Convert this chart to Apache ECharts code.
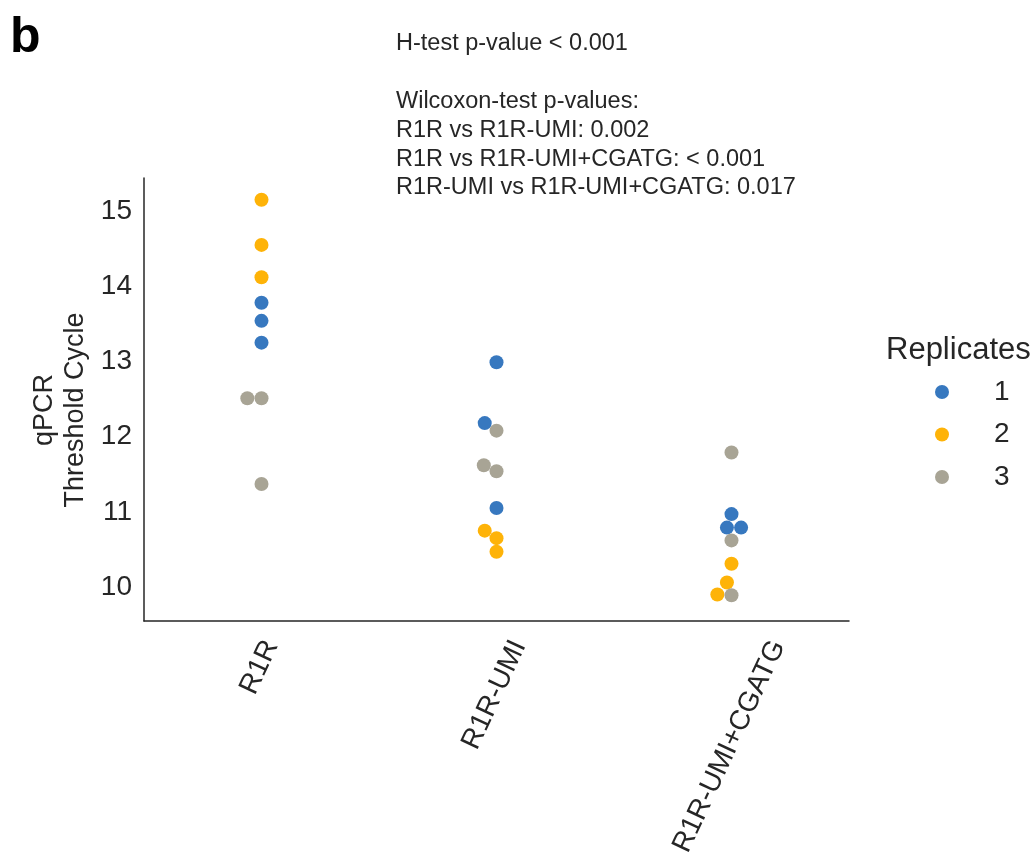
<!DOCTYPE html>
<html><head><meta charset="utf-8">
<script src="https://cdn.jsdelivr.net/npm/echarts@6/dist/echarts.min.js"></script>
<style>html,body{margin:0;padding:0;background:#fff}#c{width:1034px;height:867px}</style>
</head><body><div id="c"></div>
<script>
// ---- data ----
const categories = ['R1R', 'R1R-UMI', 'R1R-UMI+CGATG'];
const replicates = ['1', '2', '3'];
// values per category for each replicate
const rep1Values = [[13.78, 13.54, 13.25], [12.99, 12.18, 11.05], [10.97, 10.79, 10.79]];
const rep2Values = [[15.15, 14.55, 14.12], [10.75, 10.65, 10.47], [10.31, 10.06, 9.90]];
const rep3Values = [[12.51, 12.51, 11.37], [12.08, 11.62, 11.54], [11.79, 10.62, 9.89]];
const yTicks = [10, 11, 12, 13, 14, 15];
const annotationLines = [
  'H-test p-value < 0.001',
  '',
  'Wilcoxon-test p-values:',
  'R1R vs R1R-UMI: 0.002',
  'R1R vs R1R-UMI+CGATG: < 0.001',
  'R1R-UMI vs R1R-UMI+CGATG: 0.017'
];
const colors = ['#3778bf', '#feb308', '#a8a495'];
const FONT = '"Liberation Sans", Arial, Helvetica, sans-serif';
const TXT = '#262626';
const XLABEL_SIZE = 28;
const XLABEL_ROT = 65 * Math.PI / 180;

const allReps = [rep1Values, rep2Values, rep3Values];

function seriesData(offsets) {
  return allReps.map((rep, ri) => {
    const pts = [];
    rep.forEach((vals, ci) => vals.forEach((v, k) => {
      pts.push([ci + (offsets ? offsets[ri][ci][k] : 0), v]);
    }));
    return pts;
  });
}

const chart = echarts.init(document.getElementById('c'), null, {renderer: 'canvas'});
const measureCtx = document.createElement('canvas').getContext('2d');

function xLabelGraphics() {
  const axisY = chart.convertToPixel({yAxisIndex: 0}, 9.548);
  measureCtx.font = XLABEL_SIZE + 'px ' + FONT;
  return categories.map((cat, ci) => {
    const tx = chart.convertToPixel({xAxisIndex: 0}, cat);
    const w = measureCtx.measureText(cat).width;
    const h = XLABEL_SIZE;
    const H = w * Math.sin(XLABEL_ROT) + h * Math.cos(XLABEL_ROT);
    return {
      type: 'text', id: 'xl' + ci, x: tx - 2, y: axisY + 15 + H / 2, rotation: XLABEL_ROT,
      style: {text: cat, font: XLABEL_SIZE + 'px ' + FONT, fill: TXT, align: 'center', verticalAlign: 'middle'}
    };
  });
}

function buildOption(offsets, withLabels) {
  const data = seriesData(offsets);
  const graphics = [
    {type: 'text', id: 'b', left: 10, top: 13, style: {text: 'b', font: 'bold 50px ' + FONT, fill: '#000'}},
    {type: 'text', id: 'ann', x: 396, y: 29.5, style: {text: annotationLines.join('\n'), font: '23.5px ' + FONT, fill: TXT, lineHeight: 28.8, verticalAlign: 'top', align: 'left'}},
    {type: 'text', id: 'yt', x: 60, y: 410, rotation: Math.PI / 2, style: {text: 'qPCR\nThreshold Cycle', font: '27px ' + FONT, fill: TXT, lineHeight: 31, align: 'center', verticalAlign: 'middle'}},
    {type: 'text', id: 'lt', x: 886, y: 350, style: {text: 'Replicates', font: '31px ' + FONT, fill: TXT, align: 'left', verticalAlign: 'middle'}}
  ].concat(withLabels ? xLabelGraphics() : []);
  return {
    animation: false,
    backgroundColor: '#fff',
    textStyle: {fontFamily: FONT},
    grid: {left: 144, right: 185, top: 178, bottom: 246, containLabel: false},
    xAxis: [{
      type: 'category', data: categories, position: 'bottom',
      axisLine: {show: true, onZero: false, lineStyle: {color: TXT, width: 1.5}},
      axisTick: {show: false},
      splitLine: {show: false},
      axisLabel: {show: false}
    }, {
      type: 'value', min: -0.5, max: 2.5, show: false,
      axisLine: {onZero: false}
    }],
    yAxis: [{
      type: 'value', min: 9.548, max: 15.44,
      axisLine: {show: true, onZero: false, lineStyle: {color: TXT, width: 1.5}},
      axisTick: {show: false},
      splitLine: {show: false},
      axisLabel: {customValues: yTicks, fontSize: 28, color: TXT, margin: 12, fontFamily: FONT}
    }],
    legend: {
      data: replicates, orient: 'vertical', left: 930, top: 373,
      icon: 'circle', itemWidth: 14, itemHeight: 14, itemGap: 14.5,
      textStyle: {fontSize: 28, color: TXT, fontFamily: FONT, lineHeight: 28, padding: [0, 0, 0, 40]}
    },
    graphic: graphics,
    series: replicates.map((name, ri) => ({
      name: name, type: 'scatter', xAxisIndex: 1, yAxisIndex: 0,
      symbol: 'circle', symbolSize: 14,
      itemStyle: {color: colors[ri], opacity: 1},
      data: data[ri]
    }))
  };
}

chart.setOption(buildOption(null, false));

// beeswarm layout (seaborn-like) computed in pixel space
function swarmOffsets() {
  const offsets = allReps.map(r => r.map(c => c.map(() => 0)));
  const d = 13.5;
  const px0 = chart.convertToPixel({xAxisIndex: 1}, 0);
  const px1 = chart.convertToPixel({xAxisIndex: 1}, 1);
  const pxPerCat = px1 - px0;
  categories.forEach((cat, ci) => {
    const pts = [];
    allReps.forEach((rep, ri) => rep[ci].forEach((v, k) => {
      pts.push({ri: ri, k: k, v: v, y: chart.convertToPixel({yAxisIndex: 0}, v)});
    }));
    pts.sort((a, b) => a.v - b.v);
    const placed = [];
    pts.forEach(p => {
      const cands = [0];
      placed.forEach(q => {
        const dy = p.y - q.y;
        if (Math.abs(dy) < d) {
          const dx = Math.sqrt(d * d - dy * dy) * 1.05;
          cands.push(q.x - dx, q.x + dx);
        }
      });
      cands.sort((a, b) => (Math.abs(a) - Math.abs(b)) || (a - b));
      let chosen = cands[0];
      for (const c of cands) {
        if (placed.every(q => Math.hypot(c - q.x, p.y - q.y) >= d - 1e-6)) { chosen = c; break; }
      }
      p.x = chosen;
      placed.push(p);
      offsets[p.ri][ci][p.k] = chosen / pxPerCat;
    });
  });
  return offsets;
}

chart.setOption(buildOption(swarmOffsets(), true));
</script>
</body></html>
